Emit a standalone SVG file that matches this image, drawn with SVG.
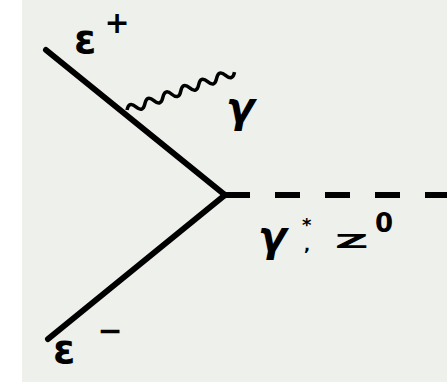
<svg xmlns="http://www.w3.org/2000/svg" width="447" height="382" viewBox="0 0 447 382">
<style>
.fermion{stroke:#000;stroke-width:6;fill:none;stroke-linecap:round}
.boson{stroke:#000;stroke-width:6;fill:none;stroke-dasharray:25 25}
.photon{stroke:#000;stroke-width:3.5;fill:none}
.lbl{font-family:"DejaVu Sans",sans-serif;font-weight:bold;fill:#000}
.sym{font-family:"DejaVu Sans",sans-serif;font-weight:bold;fill:#000;text-anchor:middle}
</style>
<rect x="0" y="0" width="447" height="382" fill="#eef0ec"/>
<rect x="0" y="0" width="22" height="382" fill="#ffffff"/>
<g id="connectors">
<line class="fermion" x1="46" y1="50" x2="225" y2="195"/>
<line class="fermion" x1="225" y1="195" x2="48" y2="339"/>
<line class="boson" x1="225" y1="195" x2="472" y2="195"/>
<path class="photon" transform="translate(127,110) rotate(-19.4)" d="M0,0 q4.75,-8 9.5,0 t9.5,0 t9.5,0 t9.5,0 t9.5,0 t9.5,0 t9.5,0 t9.5,0 t9.5,0 t9.5,0 t9.5,0 t9.5,0"/>
</g>
<g id="eplus">
<text class="lbl" x="74" y="53" font-size="40">ε</text>
<text class="sym" x="117" y="33" font-size="30">+</text>
</g>
<g id="eminus">
<text class="lbl" x="53" y="363" font-size="40">ε</text>
<text class="sym" x="110" y="341" font-size="30">−</text>
</g>
<g id="gamma">
<text class="lbl" x="226" y="122" font-size="42" font-style="italic">γ</text>
</g>
<g id="propagator">
<text class="lbl" x="258" y="251" font-size="42" font-style="italic">γ</text>
<text class="lbl" x="302" y="231" font-size="18" font-weight="normal">*</text>
<text class="lbl" x="304" y="251" font-size="16">,</text>
<text class="lbl" transform="translate(335,248) scale(2.3,1)" font-size="20">Z</text>
<text class="lbl" x="375" y="232" font-size="26">0</text>
</g>
</svg>
